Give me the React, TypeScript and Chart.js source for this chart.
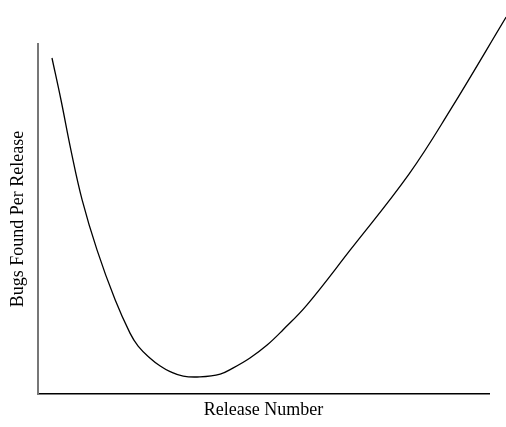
import React, { useEffect, useRef } from "react";
import { Chart, registerables } from "chart.js";

Chart.register(...registerables);

// Release number (x) and bugs found per release (y)
const releaseNumbers = [0.31, 0.51, 0.73, 0.98, 1.31, 1.71, 2.04, 2.22, 2.48, 2.71, 2.93, 3.22, 3.59, 4.04, 4.32, 4.7, 5.08, 5.43, 5.96, 6.92, 8.23, 9.14, 10.38];
const bugsFound = [9.6, 8.4, 6.97, 5.54, 4.11, 2.69, 1.74, 1.37, 1.03, 0.8, 0.64, 0.51, 0.49, 0.57, 0.74, 1.03, 1.4, 1.83, 2.54, 4.11, 6.29, 8.11, 10.77];
const xTitle = "Release Number";
const yTitle = "Bugs Found Per Release";

export default function App() {
  const ref = useRef<HTMLCanvasElement | null>(null);

  useEffect(() => {
    if (!ref.current) return;
    const font = { family: "'Liberation Serif', 'Times New Roman', serif", size: 18 };
    const chart = new Chart(ref.current, {
      type: "line",
      data: {
        datasets: [
          {
            data: releaseNumbers.map((x, i) => ({ x, y: bugsFound[i] })),
            borderColor: "#000",
            borderWidth: 1.3,
            pointRadius: 0,
            tension: 0.4,
            fill: false,
            clip: false as any,
          },
        ],
      },
      options: {
        animation: false,
        responsive: true,
        maintainAspectRatio: false,
        layout: { padding: { left: 4, right: 17, top: 44, bottom: 0 } },
        plugins: { legend: { display: false }, tooltip: { enabled: false } },
        scales: {
          x: {
            type: "linear",
            min: 0,
            max: 10,
            grid: { display: false, drawTicks: false },
            border: { display: true, color: "#000", width: 1.5 },
            ticks: { display: false },
            title: { display: true, text: xTitle, color: "#000", font, padding: { top: 5.2, bottom: 6.2 } },
          },
          y: {
            type: "linear",
            min: 0,
            max: 10,
            grid: { display: false, drawTicks: false },
            border: { display: true, color: "#777", width: 2 },
            ticks: { display: false },
            title: { display: true, text: yTitle, color: "#000", font, padding: { top: 3.5, bottom: 8.9 } },
          },
        },
      },
    });
    return () => chart.destroy();
  }, []);

  return (
    <div style={{ position: "absolute", left: 0, top: 0, width: 506, height: 427, background: "#fff" }}>
      <canvas ref={ref} />
    </div>
  );
}
